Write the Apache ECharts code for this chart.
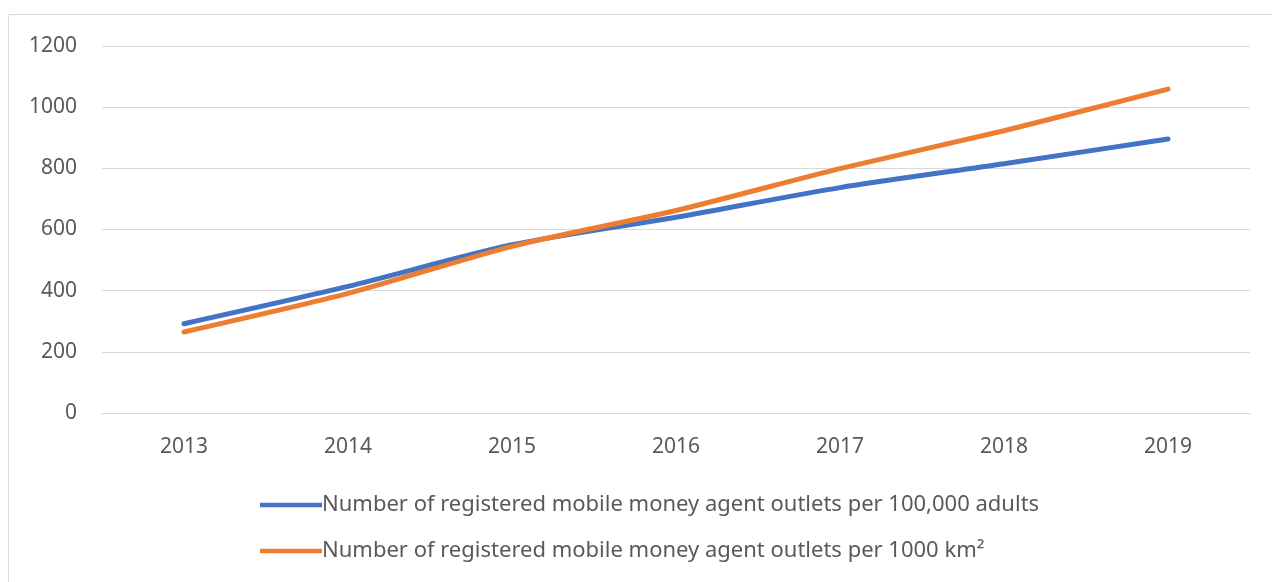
<!DOCTYPE html>
<html><head><meta charset="utf-8">
<script src="https://cdn.jsdelivr.net/npm/echarts@6/dist/echarts.min.js"></script>
<style>html,body{margin:0;padding:0;background:#fff}#c{width:1272px;height:582px}</style>
</head><body><div id="c"></div>
<script>
const years = ['2013','2014','2015','2016','2017','2018','2019'];
const perAdults = [292, 414, 550, 640, 737, 815, 896];
const perArea = [265, 391, 545, 662, 799, 923, 1059];
const seriesNames = ['Number of registered mobile money agent outlets per 100,000 adults',
  'Number of registered mobile money agent outlets per 1000 km\u00B2'];
const chart = echarts.init(document.getElementById('c'));
const font = 'Noto Sans, Liberation Sans, Arial, sans-serif';
chart.setOption({
  animation: false,
  graphic: [{type:'rect', shape:{x:8.5,y:14.5,width:1270,height:580}, style:{fill:'none', stroke:'#d9d9d9', lineWidth:1}}],
  grid: {left: 102, right: 22, top: 46, bottom: 169},
  xAxis: {type:'category', data: years, boundaryGap: true,
    axisLine:{lineStyle:{color:'#d9d9d9', width:1}}, axisTick:{show:false},
    axisLabel:{color:'#595959', fontSize:21, fontFamily:font, margin:23, lineHeight:22}},
  yAxis: {type:'value', min:0, max:1200, interval:200,
    axisLine:{show:false}, axisTick:{show:false},
    splitLine:{lineStyle:{color:'#d9d9d9', width:1}},
    axisLabel:{color:'#595959', fontSize:21, fontFamily:font, margin:25, formatter: v => String(v)}},
  legend: {orient:'vertical', left: 255, top: 489, itemGap: 24, itemWidth: 62, itemHeight: 14,
    textStyle:{color:'#595959', fontSize:22, fontFamily:font, lineHeight:22, padding:[0,0,0,-5]},
    data: seriesNames.map(n => ({name:n, icon:'path://M0,6 L62,6 L62,10.5 L0,10.5 Z'}))},
  series: [
    {name: seriesNames[0], type:'line', data: perAdults, smooth: 0.25, symbol:'none',
      lineStyle:{color:'#4472C4', width:5, cap:'round'}, itemStyle:{color:'#4472C4'}},
    {name: seriesNames[1], type:'line', data: perArea, smooth: 0.25, symbol:'none',
      lineStyle:{color:'#ED7D31', width:5, cap:'round'}, itemStyle:{color:'#ED7D31'}}
  ]
});
</script></body></html>
